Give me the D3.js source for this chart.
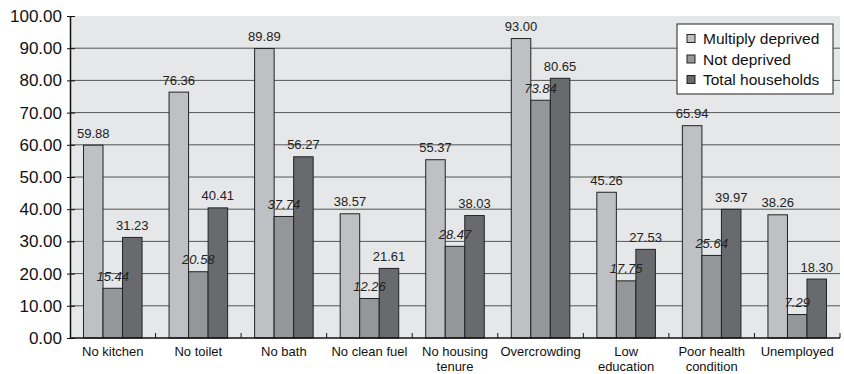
<!DOCTYPE html>
<html>
<head>
<meta charset="utf-8">
<script src="https://cdn.jsdelivr.net/npm/d3@7"></script>
<style>
  html, body { margin: 0; padding: 0; background: #fff; }
  svg { display: block; font-family: "Liberation Sans", Arial, Helvetica, sans-serif; }
</style>
</head>
<body>
<svg id="chart" width="844" height="374"></svg>
<script>
// Household deprivation indicators (%)
const categories = [
  ["No kitchen"], ["No toilet"], ["No bath"], ["No clean fuel"],
  ["No housing", "tenure"], ["Overcrowding"], ["Low", "education"],
  ["Poor health", "condition"], ["Unemployed"]
];
const seriesNames = ["Multiply deprived", "Not deprived", "Total households"];
const multiplyDeprived = [59.88, 76.36, 89.89, 38.57, 55.37, 93.00, 45.26, 65.94, 38.26];
const notDeprived      = [15.44, 20.58, 37.74, 12.26, 28.47, 73.84, 17.75, 25.64, 7.29];
const totalHouseholds  = [31.23, 40.41, 56.27, 21.61, 38.03, 80.65, 27.53, 39.97, 18.30];
const yTicks = [0, 10, 20, 30, 40, 50, 60, 70, 80, 90, 100];

const seriesValues = [multiplyDeprived, notDeprived, totalHouseholds];
const colors = ["#bfc0c3", "#959698", "#696a6d"];

const svg = d3.select("#chart");
const plotLeft = 70, plotRight = 840, plotTop = 16, plotBottom = 338;

const x = d3.scaleBand().domain(d3.range(categories.length)).range([plotLeft, plotRight]).paddingInner(0).paddingOuter(0);
const xs = d3.scaleBand().domain(d3.range(3)).range([13.5, x.bandwidth() - 13.5]).padding(0);
const y = d3.scaleLinear().domain([0, 100]).range([plotBottom, plotTop]);

// plot background
svg.append("rect").attr("x", plotLeft).attr("y", plotTop)
  .attr("width", plotRight - plotLeft).attr("height", plotBottom - plotTop)
  .attr("fill", "#e6e7e8");

// gridlines
svg.append("g").selectAll("line").data(yTicks.filter(d => d > 0 && d < 100)).join("line")
  .attr("x1", plotLeft).attr("x2", plotRight)
  .attr("y1", d => y(d)).attr("y2", d => y(d))
  .attr("stroke", "#555").attr("stroke-width", 1);

// bars and value labels
const groups = svg.append("g").selectAll("g").data(categories).join("g")
  .attr("transform", (d, i) => `translate(${x(i)},0)`);

groups.each(function(c, i) {
  const g = d3.select(this);
  seriesValues.forEach((vals, s) => {
    g.append("rect")
      .attr("x", xs(s)).attr("width", xs.bandwidth())
      .attr("y", y(vals[i])).attr("height", y(0) - y(vals[i]))
      .attr("fill", colors[s]).attr("stroke", "#222").attr("stroke-width", 1);
  });
  seriesValues.forEach((vals, s) => {
    g.append("text")
      .attr("x", xs(s) + xs.bandwidth() / 2)
      .attr("y", y(vals[i]) - 7.5)
      .attr("text-anchor", "middle")
      .attr("font-size", 13)
      .attr("font-style", s === 1 ? "italic" : "normal")
      .attr("fill", "#222")
      .text(vals[i].toFixed(2));
  });
});

// y axis
const yAxis = d3.axisLeft(y).tickValues(yTicks).tickFormat(d3.format(".2f"))
  .tickSizeInner(-5).tickSizeOuter(0).tickPadding(8);
const yg = svg.append("g").attr("transform", `translate(${plotLeft},0)`).call(yAxis);
yg.select(".domain").attr("stroke", "#111").attr("stroke-width", 1.5);
yg.selectAll(".tick line").attr("stroke", "#111").attr("x1", -3).attr("x2", 5);
yg.selectAll(".tick text").attr("font-size", 17).attr("fill", "#111")
  .attr("font-family", "Liberation Sans, Arial, sans-serif");

// x axis with ticks at category boundaries
svg.append("line").attr("x1", plotLeft).attr("x2", plotRight).attr("y1", plotBottom).attr("y2", plotBottom)
  .attr("stroke", "#111").attr("stroke-width", 1.5);
svg.append("g").selectAll("line").data(d3.range(1, categories.length + 1)).join("line")
  .attr("x1", i => plotLeft + x.step() * i).attr("x2", i => plotLeft + x.step() * i)
  .attr("y1", plotBottom).attr("y2", plotBottom - 5)
  .attr("stroke", "#111");

const xl = svg.append("g").selectAll("text").data(categories).join("text")
  .attr("x", (d, i) => x(i) + x.bandwidth() / 2)
  .attr("y", 356)
  .attr("text-anchor", "middle")
  .attr("font-size", 13)
  .attr("fill", "#111");
xl.each(function(lines) {
  const t = d3.select(this);
  t.selectAll("tspan").data(lines).join("tspan")
    .attr("x", t.attr("x"))
    .attr("dy", (d, k) => k === 0 ? 0 : 15)
    .text(d => d);
});

// legend
const lg = svg.append("g");
lg.append("rect").attr("x", 677).attr("y", 24).attr("width", 156).attr("height", 70)
  .attr("fill", "#fff").attr("stroke", "#222").attr("stroke-width", 1);
seriesNames.forEach((name, s) => {
  const yy = 38.5 + s * 20.5;
  lg.append("rect").attr("x", 687).attr("y", yy - 4).attr("width", 8).attr("height", 8)
    .attr("fill", colors[s]).attr("stroke", "#222").attr("stroke-width", 1);
  lg.append("text").attr("x", 703).attr("y", yy + 5.5).attr("font-size", 15.5)
    .attr("fill", "#111").text(name);
});
</script>
</body>
</html>
